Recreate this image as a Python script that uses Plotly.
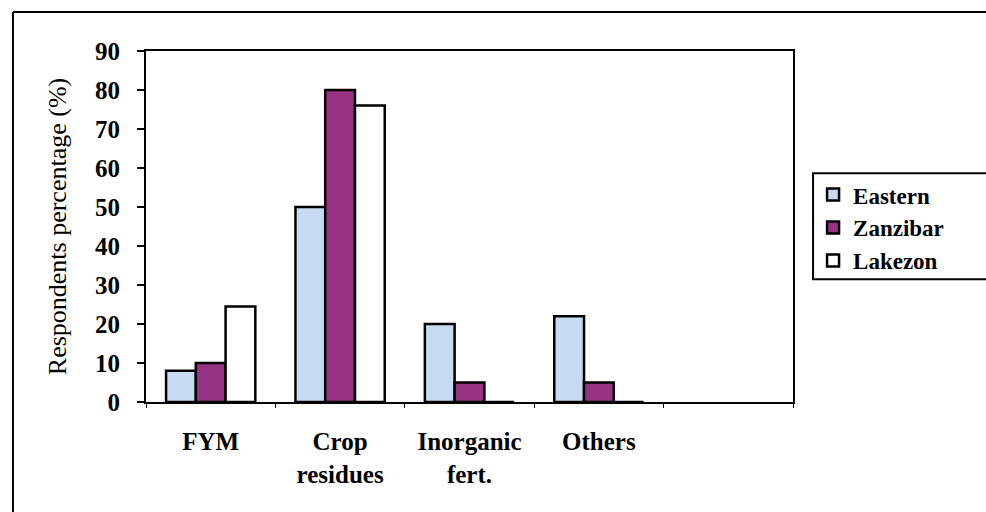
import plotly.graph_objects as go

# Nutrient sources reported by respondents, by zone (%)
categories = ["FYM", "Crop<br>residues", "Inorganic<br>fert.", "Others", " "]
eastern = [8, 50, 20, 22, None]
zanzibar = [10, 80, 5, 5, None]
lakezon = [24.5, 76, 0, 0, None]
y_ticks = [0, 10, 20, 30, 40, 50, 60, 70, 80, 90]

series = [
    ("Eastern", eastern, "#c6dbf2"),
    ("Zanzibar", zanzibar, "#983283"),
    ("Lakezon", lakezon, "#ffffff"),
]

SERIF = "Liberation Serif"

fig = go.Figure()
for name, vals, color in series:
    fig.add_trace(go.Bar(
        x=categories, y=vals, name=name, legendgroup=name,
        marker=dict(color=color, line=dict(color="black", width=2.5)),
    ))

fig.update_layout(
    width=986, height=512,
    margin=dict(l=146, r=193, t=51, b=110),
    paper_bgcolor="white", plot_bgcolor="white",
    barmode="group", bargap=0.31, bargroupgap=0,
    font=dict(family=SERIF, color="black"),
    showlegend=True,
    legend=dict(
        x=1.031, xanchor="left", y=0.652, yanchor="top",
        borderwidth=0, bgcolor="rgba(0,0,0,0)",
        font=dict(family=SERIF, size=23, color="black", weight="bold"),
        tracegroupgap=0, itemwidth=30,
    ),
    xaxis=dict(
        type="category", tickson="boundaries",
        showline=True, linecolor="black", linewidth=2, mirror=True,
        ticks="outside", ticklen=4, tickcolor="black", tickwidth=1,
        ticklabelstandoff=16,
        tickfont=dict(family=SERIF, size=25, color="black", weight="bold"),
        showgrid=False, fixedrange=True,
    ),
    yaxis=dict(
        range=[0, 90], tickvals=y_ticks,
        showline=True, linecolor="black", linewidth=2, mirror=True,
        ticks="outside", ticklen=7, tickcolor="black", tickwidth=1.5,
        ticklabelstandoff=12,
        tickfont=dict(family=SERIF, size=25, color="black", weight="bold"),
        showgrid=False, zeroline=False,
        title=dict(text="Respondents percentage (%)", standoff=21,
                   font=dict(family=SERIF, size=26, color="black")),
    ),
    shapes=[
        # outer frame: top and left edges
        dict(type="line", xref="paper", yref="paper",
             x0=-0.2056, x1=1.32, y0=1.111, y1=1.111,
             line=dict(color="black", width=2)),
        dict(type="line", xref="paper", yref="paper",
             x0=-0.2056, x1=-0.2056, y0=1.111, y1=-0.32,
             line=dict(color="black", width=2)),
        # legend box, running off the right edge
        dict(type="rect", xref="paper", yref="paper",
             x0=1.031, x1=1.32, y0=0.350, y1=0.652,
             line=dict(color="black", width=2), fillcolor="rgba(0,0,0,0)"),
    ],
)

fig.write_html("out.html")
